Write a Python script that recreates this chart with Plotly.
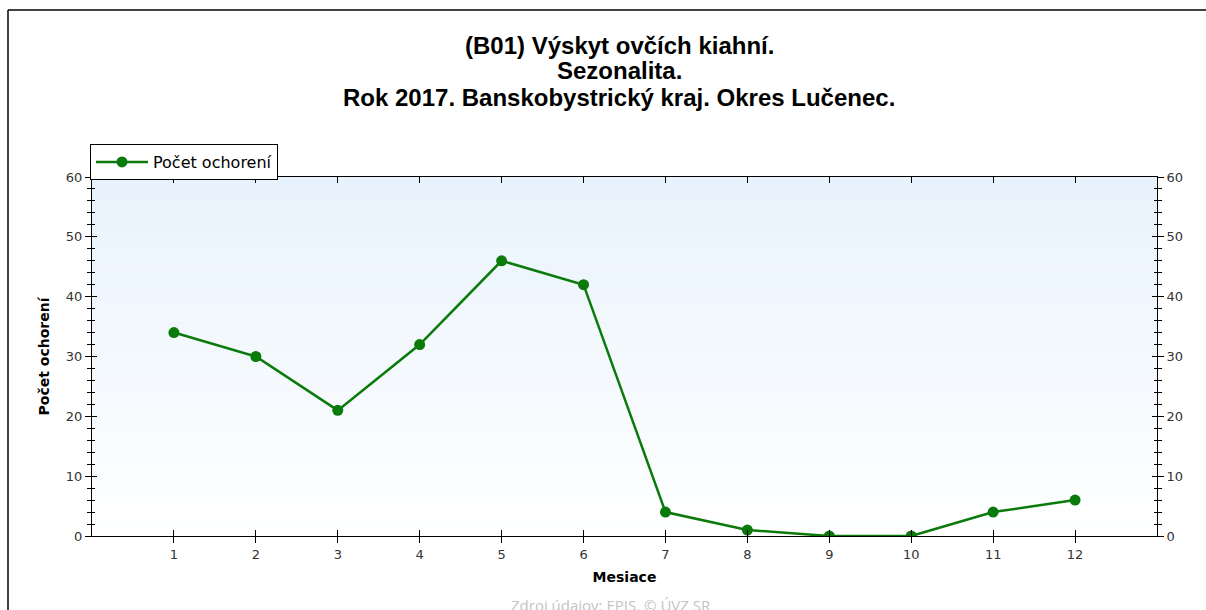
import plotly.graph_objects as go

months = [1, 2, 3, 4, 5, 6, 7, 8, 9, 10, 11, 12]
cases = [34, 30, 21, 32, 46, 42, 4, 1, 0, 0, 4, 6]
month_ticks = [str(m) for m in months]
series_name = "Počet ochorení"

title_lines = [
    "(B01) Výskyt ovčích kiahní.",
    "Sezonalita.",
    "Rok 2017. Banskobystrický kraj. Okres Lučenec.",
]

W, H = 1206, 610
ML, MR, MT, MB = 92, 49, 177, 74
green = "#0A7A0A"
TFONT = "Liberation Sans, Arial, sans-serif"
FONT = "DejaVu Sans, sans-serif"

fig = go.Figure()
fig.add_trace(go.Scatter(
    x=months, y=cases, mode="lines+markers", name=series_name,
    line=dict(color=green, width=2.5),
    marker=dict(color=green, size=11, symbol="circle"),
    xaxis="x", yaxis="y", cliponaxis=True,
))

PW = W - ML - MR
PH = H - MT - MB


def px_x(xp):
    return (xp - ML) / PW


def px_y(yp):
    return 1 - (yp - MT) / PH


# gradient background bands in plot area
n = 40
shapes = []
top = (232, 242, 252)
bot = (255, 255, 255)
for i in range(n):
    t = i / (n - 1)
    c = tuple(int(round(top[k] + (bot[k] - top[k]) * t)) for k in range(3))
    shapes.append(dict(
        type="rect", xref="x domain", yref="y domain",
        x0=0, x1=1, y0=1 - (i + 1) / n, y1=1 - i / n,
        fillcolor="rgb(%d,%d,%d)" % c, line=dict(width=0), layer="below",
    ))
# outer frame (top and left)
shapes.append(dict(type="line", xref="paper", yref="paper",
                   x0=px_x(8), x1=px_x(W), y0=px_y(10), y1=px_y(10),
                   line=dict(color="black", width=1.5)))
shapes.append(dict(type="line", xref="paper", yref="paper",
                   x0=px_x(8), x1=px_x(8), y0=px_y(10), y1=px_y(H),
                   line=dict(color="black", width=1.5)))

annotations = []
for txt, yc in zip(title_lines, [45, 70, 97]):
    annotations.append(dict(
        text="<b>%s</b>" % txt, xref="paper", yref="paper",
        x=px_x(619), y=px_y(yc), xanchor="center", yanchor="middle",
        showarrow=False, font=dict(family=TFONT, size=24, color="black"),
    ))
annotations.append(dict(
    text="Zdroj údajov: EPIS, © ÚVZ SR", xref="paper", yref="paper",
    x=px_x(611), y=px_y(605), xanchor="center", yanchor="middle",
    showarrow=False, font=dict(family="Open Sans, sans-serif", size=15, color="#C4C4C4"),
))

tickfont = dict(family=FONT, size=13, color="#333333")

fig.update_layout(
    width=W, height=H,
    margin=dict(l=ML, r=MR, t=MT, b=MB, pad=0),
    paper_bgcolor="white",
    plot_bgcolor="rgba(0,0,0,0)",
    showlegend=True,
    legend=dict(
        x=px_x(90), y=px_y(144), xanchor="left", yanchor="top",
        bgcolor="white", bordercolor="black", borderwidth=1,
        font=dict(family=FONT, size=16, color="black"),
        tracegroupgap=0, itemwidth=52,
    ),
    shapes=shapes,
    annotations=annotations,
    xaxis=dict(
        range=[0, 13], tickvals=months, ticktext=month_ticks,
        ticks="outside", ticklen=6, tickcolor="black", tickwidth=1,
        showline=True, linecolor="black", linewidth=1, mirror=True,
        showgrid=False, zeroline=False, tickfont=tickfont,
        title=dict(text="<b>Mesiace</b>", font=dict(family=FONT, size=14, color="black"), standoff=11),
    ),
    xaxis2=dict(
        range=[0, 13], overlaying="x", anchor="y", tickvals=months,
        ticks="inside", ticklen=6, tickcolor="black", mirror="ticks",
        showticklabels=False, showline=False, showgrid=False, zeroline=False,
    ),
    yaxis=dict(
        range=[0, 60], dtick=10, ticks="outside", ticklen=6, tickcolor="black",
        minor=dict(dtick=2, ticks="outside", ticklen=4, tickcolor="black"),
        showline=True, linecolor="black", linewidth=1, mirror=True,
        showgrid=False, zeroline=False, tickfont=tickfont,
        title=dict(text="<b>Počet ochorení</b>", font=dict(family=FONT, size=14, color="black"), standoff=12),
    ),
    yaxis2=dict(
        range=[0, 60], dtick=10, overlaying="y", side="right", anchor="x",
        ticks="outside", ticklen=6, tickcolor="black",
        minor=dict(dtick=2, ticks="outside", ticklen=4, tickcolor="black"),
        showline=False, showgrid=False, zeroline=False, tickfont=tickfont,
    ),
    yaxis3=dict(
        range=[0, 60], dtick=10, overlaying="y", anchor="x",
        ticks="inside", ticklen=5, tickcolor="black", mirror="ticks",
        minor=dict(dtick=2, ticks="inside", ticklen=3, tickcolor="black"),
        showticklabels=False, showline=False, showgrid=False, zeroline=False,
    ),
)

# invisible helper traces so overlay axes are rendered
for xa, ya in [("x2", "y"), ("x", "y2"), ("x", "y3")]:
    fig.add_trace(go.Scatter(x=months, y=cases, xaxis=xa, yaxis=ya, mode="markers",
                             marker=dict(opacity=0), showlegend=False, hoverinfo="skip"))

fig.write_html("out.html", config={"displayModeBar": False},
               post_script="document.body.style.margin='0px';document.body.style.overflow='hidden';")
